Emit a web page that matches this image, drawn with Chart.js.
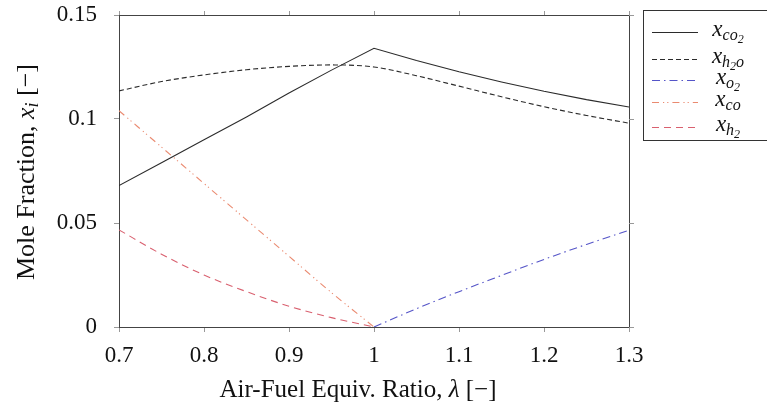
<!DOCTYPE html>
<html>
<head>
<meta charset="utf-8">
<script src="https://cdn.jsdelivr.net/npm/chart.js@4.4.1/dist/chart.umd.min.js"></script>
<style>
  body { margin: 0; background: #fff; }
  #wrap { width: 767px; height: 404px; }
</style>
</head>
<body>
<div id="wrap"><canvas id="moleChart" width="767" height="404"></canvas></div>
<script>
// air-fuel equivalence ratio (x axis)
var lambda = [0.7, 0.75, 0.8, 0.85, 0.9, 0.95, 1.0, 1.05, 1.1, 1.15, 1.2, 1.25, 1.3];

// mole fractions
var xCO2 = [0.068, 0.079, 0.090, 0.101, 0.1125, 0.1235, 0.134, 0.1281, 0.1227, 0.1178, 0.1133, 0.1093, 0.1058];
var xH2O = [0.1135, 0.118, 0.1212, 0.1237, 0.1253, 0.126, 0.125, 0.1208, 0.1158, 0.1107, 0.1059, 0.1017, 0.098];
var xO2 = [null, null, null, null, null, null, 0, 0.0088, 0.017, 0.0248, 0.0325, 0.0397, 0.0465];
var xCO = [0.104, 0.0865, 0.069, 0.0515, 0.034, 0.0165, 0, null, null, null, null, null, null];
var xH2 = [0.0467, 0.035, 0.025, 0.017, 0.010, 0.0045, 0, null, null, null, null, null, null];

var xTicks = [0.7, 0.8, 0.9, 1.0, 1.1, 1.2, 1.3];
var yTicks = [0, 0.05, 0.1, 0.15];

// legend labels: [text, level] where level 0 = normal, 1 = subscript, 2 = sub-subscript
var legendLabels = [
    [['x', 0], ['co', 1], ['2', 2]],
    [['x', 0], ['h', 1], ['2', 2], ['o', 1]],
    [['x', 0], ['o', 1], ['2', 2]],
    [['x', 0], ['co', 1]],
    [['x', 0], ['h', 1], ['2', 2]]
];

var SERIF = '"Liberation Serif", "DejaVu Serif", serif';

function pts(ys) {
    return lambda.map(function (l, i) { return { x: l, y: ys[i] }; });
}

function line(ys, color, dash, smooth) {
    return {
        data: pts(ys),
        borderColor: color,
        borderWidth: 1.1,
        borderDash: dash,
        pointRadius: 0,
        fill: false,
        tension: 0,
        cubicInterpolationMode: smooth ? 'monotone' : 'default',
        spanGaps: false
    };
}

var datasets = [
    line(xCO2, '#2b2b2b', [], false),
    line(xH2O, '#2b2b2b', [5, 3], true),
    line(xO2, '#5555c8', [8, 4, 1.5, 4], true),
    line(xCO, '#ea8a70', [7, 4, 1.2, 3, 1.2, 4], true),
    line(xH2, '#d9606f', [7, 5], true)
];

// draw text made of pieces with italics / subscripts, centred on cx, baseline cy
function drawRich(ctx, segs, cx, cy) {
    var total = 0;
    segs.forEach(function (s) {
        ctx.font = (s.italic ? 'italic ' : '') + s.size + 'px ' + SERIF;
        s.w = ctx.measureText(s.t).width;
        total += s.w;
    });
    var x = cx - total / 2;
    segs.forEach(function (s) {
        ctx.font = (s.italic ? 'italic ' : '') + s.size + 'px ' + SERIF;
        ctx.fillText(s.t, x, cy + (s.dy || 0));
        x += s.w;
    });
}

var decorPlugin = {
    id: 'decor',
    afterDraw: function (chart) {
        var ctx = chart.ctx;
        var a = chart.chartArea;
        var sx = chart.scales.x, sy = chart.scales.y;
        ctx.save();

        // top and right frame with their tick marks
        ctx.strokeStyle = '#444';
        ctx.lineWidth = 1;
        ctx.beginPath();
        ctx.moveTo(a.left, a.top + 0.5);
        ctx.lineTo(a.right + 0.5, a.top + 0.5);
        ctx.lineTo(a.right + 0.5, a.bottom);
        ctx.stroke();
        ctx.strokeStyle = '#999';
        ctx.beginPath();
        xTicks.forEach(function (v) {
            var px = Math.round(sx.getPixelForValue(v)) + 0.5;
            ctx.moveTo(px, a.top - 4);
            ctx.lineTo(px, a.top);
        });
        yTicks.forEach(function (v) {
            var py = Math.round(sy.getPixelForValue(v)) + 0.5;
            ctx.moveTo(a.right, py);
            ctx.lineTo(a.right + 5, py);
        });
        ctx.stroke();

        ctx.fillStyle = '#111';
        ctx.textBaseline = 'alphabetic';

        // x axis title
        drawRich(ctx, [
            { t: 'Air-Fuel Equiv. Ratio, ', size: 25 },
            { t: 'λ', size: 25, italic: true },
            { t: ' [\u2212]', size: 25 }
        ], 358, 397);

        // y axis title
        ctx.save();
        ctx.translate(34, 172);
        ctx.rotate(-Math.PI / 2);
        drawRich(ctx, [
            { t: 'Mole Fraction, ', size: 26 },
            { t: 'x', size: 26, italic: true },
            { t: 'i', size: 18, italic: true, dy: 4 },
            { t: ' [\u2212]', size: 26 }
        ], 0, 0);
        ctx.restore();

        // legend box
        ctx.strokeStyle = '#333';
        ctx.lineWidth = 1;
        ctx.strokeRect(643.5, 10.5, 140, 130);
        var rowY = [32, 59, 80, 102, 127];
        var sizes = [23, 16, 12];
        var offs = [0, 4, 7];
        chart.data.datasets.forEach(function (ds, i) {
            var y = rowY[i];
            ctx.save();
            ctx.strokeStyle = ds.borderColor;
            ctx.lineWidth = 1.1;
            ctx.setLineDash(ds.borderDash);
            ctx.beginPath();
            ctx.moveTo(652, y + 0.5);
            ctx.lineTo(698, y + 0.5);
            ctx.stroke();
            ctx.restore();
            var segs = legendLabels[i].map(function (p) {
                return { t: p[0], size: sizes[p[1]], italic: true, dy: offs[p[1]] };
            });
            drawRich(ctx, segs, 728, y + 4);
        });
        ctx.restore();
    }
};

function fmt(v) {
    return String(Number(v.toFixed(2)));
}

var axisLine = { color: '#444', width: 1 };

new Chart(document.getElementById('moleChart').getContext('2d'), {
    type: 'line',
    data: { datasets: datasets },
    plugins: [decorPlugin],
    options: {
        responsive: false,
        animation: false,
        layout: { padding: { left: 0, right: 138, top: 0, bottom: 0 } },
        plugins: { legend: { display: false }, tooltip: { enabled: false } },
        scales: {
            x: {
                type: 'linear',
                min: 0.7,
                max: 1.3,
                afterBuildTicks: function (s) { s.ticks = xTicks.map(function (v) { return { value: v }; }); },
                afterFit: function (s) { s.height = 77; s.paddingLeft = 0; s.paddingRight = 0; },
                border: axisLine,
                grid: { drawOnChartArea: false, tickLength: 5, color: '#999' },
                ticks: { color: '#111', padding: 10, maxRotation: 0, font: { family: SERIF, size: 23 }, callback: fmt }
            },
            y: {
                type: 'linear',
                min: 0,
                max: 0.15,
                afterBuildTicks: function (s) { s.ticks = yTicks.map(function (v) { return { value: v }; }); },
                afterFit: function (s) { s.width = 119; s.paddingTop = 15; s.paddingBottom = 0; },
                border: axisLine,
                grid: { drawOnChartArea: false, tickLength: 5, color: '#999' },
                ticks: { color: '#111', padding: 17, font: { family: SERIF, size: 23 }, callback: fmt }
            }
        }
    }
});
</script>
</body>
</html>
